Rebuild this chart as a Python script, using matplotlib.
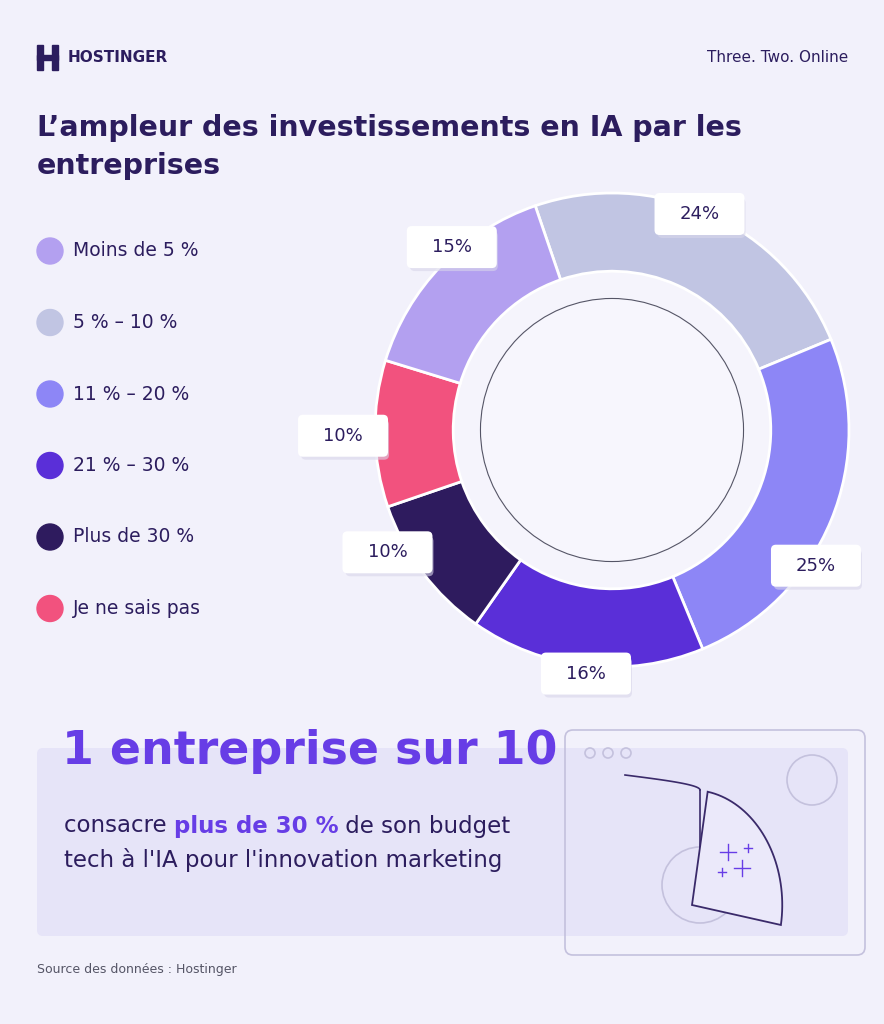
import numpy as np
import matplotlib.pyplot as plt
from matplotlib.patches import FancyBboxPatch, Circle, Rectangle, Polygon

# =========================================================
# Données
# =========================================================
categories = ["Moins de 5 %", "5 % – 10 %", "11 % – 20 %", "21 % – 30 %", "Plus de 30 %", "Je ne sais pas"]
legend_colors = ["#b3a0f0", "#c1c5e3", "#8d86f6", "#5a2fd8", "#2e1b5e", "#f2527e"]

# ordre de tracé (sens horaire à partir du haut)
pie_values = [24, 25, 16, 10, 10, 15]
pie_colors = ["#c1c5e3", "#8d86f6", "#5a2fd8", "#2e1b5e", "#f2527e", "#b3a0f0"]
pie_labels = ["24%", "25%", "16%", "10%", "10%", "15%"]

BG = "#f2f1fb"
DARK = "#2c1d5e"
PURPLE = "#673de6"
LINE = "#c4c1dd"

W, H = 884, 1024
fig = plt.figure(figsize=(W / 100, H / 100), dpi=100, facecolor=BG)
base = fig.add_axes([0, 0, 1, 1])
base.set_xlim(0, W)
base.set_ylim(H, 0)
base.axis("off")

# =========================================================
# En-tête
# =========================================================
base.add_patch(Rectangle((37, 45), 6, 25, color=DARK))
base.add_patch(Rectangle((52, 45), 6, 25, color=DARK))
base.add_patch(Rectangle((37, 55), 21, 5, color=DARK))
base.text(68, 58, "HOSTINGER", fontsize=11, fontweight="bold", color=DARK, va="center")
base.text(848, 58, "Three. Two. Online", fontsize=11, color=DARK, va="center", ha="right")
base.text(37, 128, "L’ampleur des investissements en IA par les", fontsize=20.5,
          fontweight="bold", color=DARK, va="center")
base.text(37, 166, "entreprises", fontsize=20.5, fontweight="bold", color=DARK, va="center")

# Légende
for i, (cat, col) in enumerate(zip(categories, legend_colors)):
    y = 251 + i * 71.5
    base.add_patch(Circle((50, y), 13, color=col))
    base.text(73, y, cat, fontsize=13.5, color=DARK, va="center")

# =========================================================
# Donut
# =========================================================
cx, cy, r = 612, 430, 237
ax = fig.add_axes([(cx - r) / W, 1 - (cy + r) / H, 2 * r / W, 2 * r / H])
start = 108.9
wedges, _ = ax.pie(pie_values, colors=pie_colors, startangle=start, counterclock=False,
                   radius=1, wedgeprops=dict(width=0.33, edgecolor="white", linewidth=2))
ax.add_patch(Circle((0, 0), 0.67, color="#f5f4fc", zorder=0))
ax.add_patch(Circle((0, 0), 0.555, facecolor="#f7f6fd", edgecolor="#555566", linewidth=0.8))
ax.set_xlim(-1, 1)
ax.set_ylim(-1, 1)
ax.set_aspect("equal")
ax.axis("off")

offsets = [(-10, 0), (-15, 45), (0, 8), (-35, -20), (-32, 2), (10, -18)]
for w, lab, (ox, oy) in zip(wedges, pie_labels, offsets):
    ang = np.deg2rad((w.theta1 + w.theta2) / 2)
    px = cx + r * np.cos(ang) + ox
    py = cy - r * np.sin(ang) + oy
    base.add_patch(FancyBboxPatch((px - 44 + 2, py - 20 + 4), 88, 40,
                                  boxstyle="round,pad=0,rounding_size=5",
                                  facecolor="#d8d6ea", edgecolor="none", alpha=0.6, zorder=4))
    base.add_patch(FancyBboxPatch((px - 45, py - 21), 90, 42,
                                  boxstyle="round,pad=0,rounding_size=5",
                                  facecolor="white", edgecolor="none", zorder=5))
    base.text(px, py, lab, fontsize=13, color=DARK, ha="center", va="center", zorder=6)
base.set_zorder(2)
base.patch.set_visible(False)

# =========================================================
# Encart du bas
# =========================================================
base.add_patch(FancyBboxPatch((37, 748), 811, 188, boxstyle="round,pad=0,rounding_size=6",
                              facecolor="#e6e4f8", edgecolor="none", zorder=1))
# illustration
base.add_patch(FancyBboxPatch((565, 730), 300, 225, boxstyle="round,pad=0,rounding_size=8",
                              facecolor="none", edgecolor=LINE, linewidth=1.2, zorder=1))
for xx in (590, 608, 626):
    base.add_patch(Circle((xx, 753), 5, facecolor="none", edgecolor=LINE, lw=1.2, zorder=1))
base.add_patch(Circle((700, 885), 38, facecolor="none", edgecolor=LINE, lw=1.2, zorder=1))
base.add_patch(Circle((812, 780), 25, facecolor="none", edgecolor=LINE, lw=1.2, zorder=1))
# arc dans la fenêtre
t = np.linspace(0, 1, 40)
base.plot(625 + 75 * np.sin(t * np.pi / 2), 775 + 15 * t, color="#3a2a6a", lw=1.2, zorder=2)
base.plot([700, 700], [790, 900], color="#3a2a6a", lw=1.2, zorder=2)
# carte inclinée (quart de disque)
ang = np.deg2rad(np.linspace(-10, 80, 40))
ox, oy = 692, 905
arc_pts = [(ox + 95 * np.cos(a) * 0.95, oy - 115 * np.sin(a)) for a in ang]
base.add_patch(Polygon([(ox, oy)] + arc_pts + [(ox, oy)], closed=True, facecolor="#ebe9fa",
                       edgecolor="#3a2a6a", lw=1.3, zorder=3))
for sx, sy, s in [(728, 852, 8), (742, 868, 8), (748, 848, 4), (722, 872, 4)]:
    base.plot([sx - s, sx + s], [sy, sy], color=PURPLE, lw=1, zorder=4)
    base.plot([sx, sx], [sy - s, sy + s], color=PURPLE, lw=1, zorder=4)

base.text(62, 752, "1 entreprise sur 10", fontsize=33, fontweight="bold", color=PURPLE,
          va="center", zorder=3)

# texte avec mise en évidence
fig.canvas.draw()
renderer = fig.canvas.get_renderer()
x = 64
for part, bold, col in [("consacre ", False, DARK), ("plus de 30 %", True, PURPLE), (" de son budget", False, DARK)]:
    tx = base.text(x, 826, part, fontsize=16.5, fontweight="bold" if bold else "normal",
                   color=col, va="center", zorder=3)
    x += tx.get_window_extent(renderer).width
base.text(64, 860, "tech à l'IA pour l'innovation marketing", fontsize=16.5, color=DARK,
          va="center", zorder=3)

base.text(37, 970, "Source des données : Hostinger", fontsize=9, color="#555566", va="center")

fig.savefig("out.png", dpi=100, facecolor=BG)
